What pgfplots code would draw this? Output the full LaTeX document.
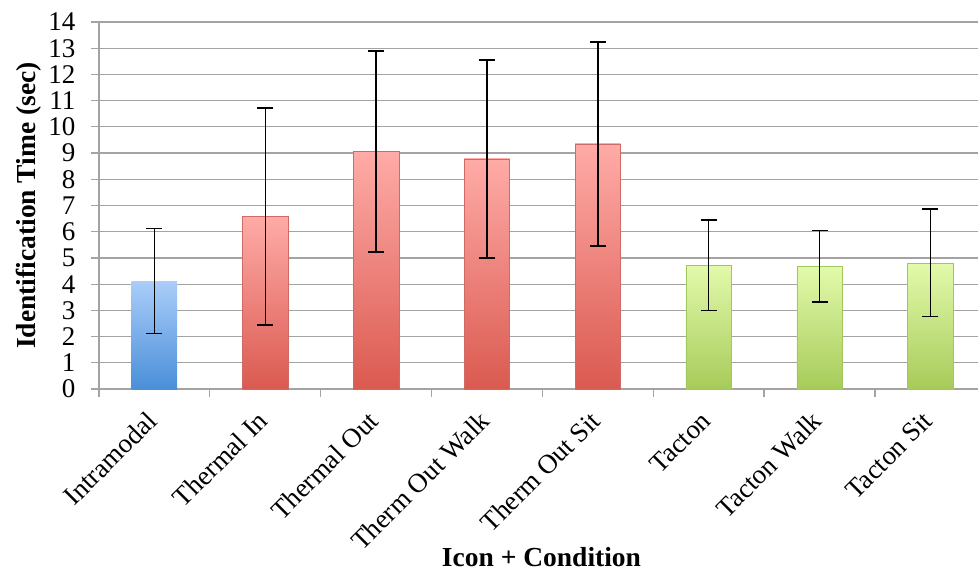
\documentclass[border=0pt]{standalone}
\usepackage{pgfplots}
\pgfplotsset{compat=1.18}
\usepackage{pgfplotstable}
\usepackage{fontspec}
\setmainfont{Liberation Serif}
\definecolor{gridc}{HTML}{A3A3A3}
\definecolor{bluetop}{HTML}{AACDF9}
\definecolor{bluebot}{HTML}{4A8FD9}
\definecolor{redtop}{HTML}{FFABA7}
\definecolor{redbot}{HTML}{DA5A50}
\definecolor{redbd}{HTML}{CF6A65}
\definecolor{greentop}{HTML}{E2FAAB}
\definecolor{greenbot}{HTML}{A7CB59}
\definecolor{greenbd}{HTML}{A3C760}
\pgfplotstableread{
x y ep em
0 4.12 2.01 2.00
1 6.58 4.13 4.14
2 9.06 3.84 3.84
3 8.78 3.78 3.79
4 9.35 3.89 3.89
5 4.73 1.72 1.73
6 4.67 1.37 1.36
7 4.80 2.07 2.04
}\data
\begin{document}
\begin{tikzpicture}
\begin{axis}[
  scale only axis, width=879pt, height=367pt,
  xmin=-0.5, xmax=7.43, ymin=0, ymax=14,
  axis x line*=bottom, axis y line*=left,
  axis line style={gridc, line width=1.2pt, -},
  ytick={0,...,14}, ymajorgrids,
  grid style={gridc, line width=1.2pt},
  xtick={-0.5,0.5,...,7.5}, xticklabels={},
  tick align=outside, major tick length=8pt,
  tick style={gridc, line width=1.2pt},
  extra x ticks={0,...,7},
  extra x tick labels={Intramodal,Thermal In,Thermal Out,Therm Out Walk,Therm Out Sit,Tacton,Tacton Walk,Tacton Sit},
  extra x tick style={major tick length=0pt, xticklabel style={rotate=45, anchor=east}},
  xticklabel shift=25pt,
  yticklabel shift=12pt,
  tick label style={font=\fontsize{27}{31}\selectfont},
  /pgf/number format/assume math mode=true,
  ylabel={Identification Time (sec)}, xlabel={Icon + Condition},
  label style={font=\fontsize{27.5}{31}\selectfont\bfseries},
  xlabel style={at={(axis description cs:0.5,0)}, anchor=center, yshift=-168pt, xshift=3pt},
  every bar/.style={line width=1pt},
]
\addplot[ybar, bar width=0.41, bar shift=0pt, draw=none, top color=bluetop, bottom color=bluebot] coordinates {(0,4.12)};
\addplot[ybar, bar width=0.41, bar shift=0pt, draw=redbd, top color=redtop, bottom color=redbot] coordinates {(1,6.58)};
\addplot[ybar, bar width=0.41, bar shift=0pt, draw=redbd, top color=redtop, bottom color=redbot] coordinates {(2,9.06)};
\addplot[ybar, bar width=0.41, bar shift=0pt, draw=redbd, top color=redtop, bottom color=redbot] coordinates {(3,8.78)};
\addplot[ybar, bar width=0.41, bar shift=0pt, draw=redbd, top color=redtop, bottom color=redbot] coordinates {(4,9.35)};
\addplot[ybar, bar width=0.41, bar shift=0pt, draw=greenbd, top color=greentop, bottom color=greenbot] coordinates {(5,4.73)};
\addplot[ybar, bar width=0.41, bar shift=0pt, draw=greenbd, top color=greentop, bottom color=greenbot] coordinates {(6,4.67)};
\addplot[ybar, bar width=0.41, bar shift=0pt, draw=greenbd, top color=greentop, bottom color=greenbot] coordinates {(7,4.80)};
\addplot[draw=none, mark=none,
  error bars/.cd, y dir=both, y explicit,
  error bar style={draw=black, line width=1.5pt},
  error mark options={draw=black, line width=1.5pt, mark size=8pt, rotate=90}]
  table[x=x, y=y, y error plus=ep, y error minus=em]{\data};
\end{axis}
\pgfresetboundingbox
\path[use as bounding box] ([xshift=-99pt,yshift=-184pt]current axis.south west) rectangle ([yshift=22pt]current axis.north east);
\end{tikzpicture}
\end{document}
